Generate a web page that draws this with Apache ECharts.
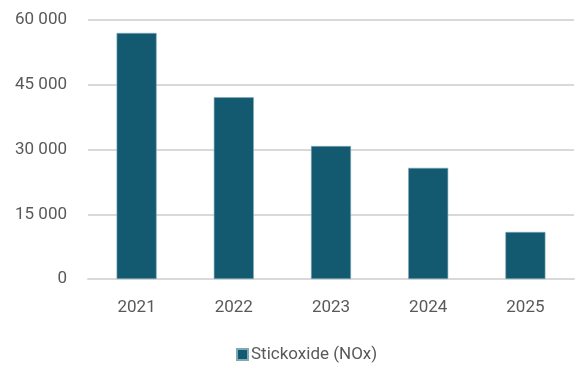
<!DOCTYPE html>
<html><head><meta charset="utf-8">
<script src="https://cdn.jsdelivr.net/npm/echarts@6/dist/echarts.min.js"></script>
<style>html,body{margin:0;padding:0;background:#fff}#c{width:576px;height:368px}</style>
</head><body><div id="c"></div>
<script>
const categories = ['2021','2022','2023','2024','2025'];
const nox = [57000, 42100, 30800, 25750, 10900];
const seriesName = 'Stickoxide (NOx)';
const yTicks = [0, 15000, 30000, 45000, 60000];

const FONT = 'Roboto, sans-serif';
const chart = echarts.init(document.getElementById('c'));
chart.setOption({
  animation: false,
  textStyle: { fontFamily: FONT },
  grid: { left: 88, right: 2, top: 20, height: 259 },
  legend: {
    top: 346, left: 236, padding: 0, itemWidth: 11, itemHeight: 11, itemGap: 10,
    icon: 'rect',
    textStyle: { fontFamily: FONT, fontSize: 17, color: '#595959', padding: [0, 0, 0, -2] },
    data: [seriesName]
  },
  xAxis: {
    type: 'category', data: categories,
    axisLine: { lineStyle: { color: '#d9d9d9', width: 2 } },
    axisTick: { show: false },
    axisLabel: { fontFamily: FONT, fontSize: 17, color: '#595959', margin: 20 }
  },
  yAxis: {
    type: 'value', min: yTicks[0], max: yTicks[yTicks.length-1], interval: 15000,
    axisLine: { show: false }, axisTick: { show: false },
    splitLine: { lineStyle: { color: '#d9d9d9', width: 2 } },
    axisLabel: {
      fontFamily: FONT, fontSize: 17, color: '#595959', margin: 21,
      formatter: v => String(v).replace(/\B(?=(\d{3})+(?!\d))/g, ' ')
    }
  },
  series: [{
    name: seriesName, type: 'bar', data: nox, barWidth: 40,
    itemStyle: { color: '#135a70', borderColor: '#7fa9b8', borderWidth: 0.6 }
  }]
});
</script></body></html>
